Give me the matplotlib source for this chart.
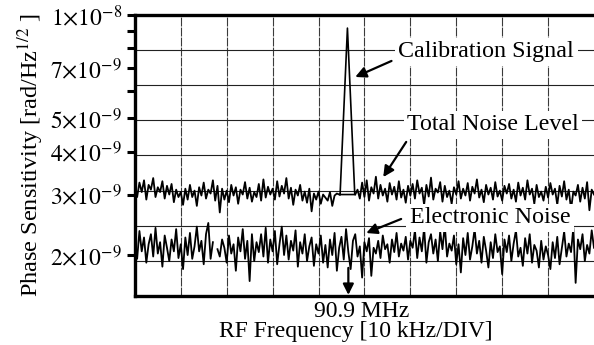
import numpy as np
import matplotlib
matplotlib.use("Agg")
import matplotlib.pyplot as plt
from matplotlib.ticker import FixedLocator, FuncFormatter, NullLocator

plt.rcParams["font.family"] = ["Liberation Serif", "DejaVu Serif"]
plt.rcParams["mathtext.fontset"] = "stix"

nan = float("nan")

# values in units of 1e-9 rad/Hz^1/2, sampled every 0.05 division (0..10)
total_noise = [
    3.15, 2.95, 3.25, 3.05, 3.30, 2.90, 3.20, 3.10, 3.35, 2.95, 3.15, 3.05, 3.28, 2.92, 3.18, 3.00, 3.22, 2.85, 3.10, 2.95,
    3.05, 2.80, 3.12, 2.90, 3.20, 2.95, 3.08, 2.78, 3.15, 2.98, 3.25, 2.92, 3.10, 3.02, 3.30, 2.88, 3.18, 2.66, 3.12, 2.90,
    3.08, 2.85, 3.20, 2.98, 3.15, 2.82, 3.10, 3.00, 3.26, 2.92, 3.14, 2.86, 3.05, 2.95, 3.22, 2.88, 3.32, 2.94, 3.16, 3.00,
    3.12, 2.90, 3.28, 2.96, 3.18, 3.02, 3.35, 2.92, 3.14, 2.80, 3.10, 2.98, 3.20, 2.88, 3.06, 2.84, 3.12, 2.68, 3.02, 2.90,
    3.06, 2.82, 3.00, 2.94, 2.88, 3.05, 2.78, 2.98, 3.02, 3.00, nan, nan, nan, nan, nan, nan, 3.00, 3.10, 2.92, 3.25,
    2.95, 3.30, 2.88, 3.15, 3.02, 3.38, 2.92, 3.20, 2.98, 3.12, 2.86, 3.24, 3.00, 3.16, 2.90, 3.28, 2.94, 3.10, 2.84, 3.18,
    2.98, 3.22, 2.92, 3.30, 3.02, 3.14, 2.80, 3.20, 2.96, 3.36, 2.90, 3.12, 3.04, 3.26, 2.86, 3.18, 2.95, 3.08, 2.82, 3.15,
    3.00, 3.28, 2.92, 3.12, 2.98, 3.24, 2.88, 3.16, 3.02, 3.32, 2.94, 3.10, 2.85, 3.20, 3.00, 3.14, 2.90, 3.26, 2.96, 3.08,
    2.88, 3.18, 3.02, 3.22, 2.92, 3.10, 2.86, 3.25, 2.98, 3.14, 2.90, 3.30, 3.00, 3.12, 2.82, 3.20, 2.95, 3.06, 2.88, 3.16,
    2.94, 3.24, 3.00, 3.12, 2.80, 3.18, 2.96, 3.28, 2.90, 3.10, 2.72, 3.06, 2.98, 3.20, 2.86, 3.14, 2.92, 3.26, 2.70, 3.10,
    3.00,
]

electronic_noise = [
    2.20, 1.95, 2.35, 2.05, 2.25, 1.90, 2.15, 2.30, 1.98, 2.40, 2.02, 2.18, 1.85, 2.28, 2.10, 1.92, 2.22, 2.05, 2.38, 1.96,
    2.15, 1.82, 2.25, 2.00, 2.32, 1.95, 2.12, 2.42, 2.05, 2.20, 1.88, 2.30, 2.48, 1.95, 2.18, nan, 2.08, 1.98, 2.22, 2.10,
    1.90, 2.28, 2.02, 2.15, 1.80, 2.25, 2.05, 2.38, 1.95, 2.20, 1.68, 2.30, 1.92, 2.18, 2.04, 2.30, 1.98, 2.40, 1.90, 2.22,
    2.05, 2.35, 1.88, 2.15, 2.42, 2.00, 2.28, 1.94, 2.20, 2.06, 2.36, 1.85, 2.18, 2.02, 2.30, 1.92, 2.12, 2.25, 1.86, 2.15,
    2.02, 2.28, 1.90, 2.14, 1.84, 2.22, 2.00, 2.32, 1.80, 2.10, 2.26, 1.94, 2.38, 2.04, 1.82, 2.20, 2.30, 1.98, 2.12, 1.72,
    2.18, 2.05, 2.24, 1.74, 2.10, 2.02, 2.20, 1.96, 2.28, 2.08, 2.15, 1.90, 2.22, 2.04, 2.32, 1.98, 2.16, 2.06, 2.26, 1.94,
    2.20, 2.10, 2.36, 1.96, 2.25, 2.05, 2.40, 1.90, 2.18, 2.30, 2.02, 2.22, 1.92, 2.34, 2.08, 2.44, 1.98, 2.16, 2.06, 2.28,
    1.88, 2.15, 1.78, 2.24, 2.00, 2.32, 1.94, 2.12, 2.38, 2.02, 2.20, 1.90, 2.26, 2.06, 1.84, 2.18, 1.96, 2.30, 2.04, 2.12,
    1.76, 2.22, 2.04, 2.28, 1.92, 2.16, 2.36, 1.98, 2.10, 1.86, 2.24, 2.02, 2.30, 1.90, 2.14, 2.06, 1.84, 2.20, 1.94, 2.12,
    2.00, 1.82, 2.18, 1.96, 2.26, 1.88, 2.10, 2.34, 1.98, 2.16, 2.04, 2.40, 1.66, 2.22, 2.08, 2.30, 1.92, 2.14, 2.02, 2.36,
    2.10,
]

# calibration peak (divisions, 1e-9 units)
peak_x = [4.47, 4.63, 4.79, 4.47]
peak_y = [3.00, 9.15, 3.00, 3.00]
marker_x = 4.65  # 90.9 MHz

freq_div = np.linspace(0, 10, len(total_noise))
scale = 1e-9

fig = plt.figure(figsize=(5.94, 3.45), dpi=100)
ax = fig.add_axes([0.227, 0.142, 0.773, 0.815])

ax.set_yscale("log")
ax.set_xlim(0, 10)
ax.set_ylim(1.52e-9, 1e-8)

# grid: 10 vertical divisions, 8 equal horizontal divisions
for i in range(1, 10):
    ax.axvline(i, color="#3a3a3a", lw=0.8, ls=(0, (8, 1)), zorder=1)
for j in range(1, 8):
    ax.plot([0, 1], [j / 8, j / 8], transform=ax.transAxes, color="#222222", lw=0.8, zorder=1)

ax.plot(freq_div, np.array(total_noise) * scale, color="k", lw=1.3, zorder=3)
ax.plot(freq_div, np.array(electronic_noise) * scale, color="k", lw=1.3, zorder=3)
ax.plot(peak_x, np.array(peak_y) * scale, color="k", lw=1.2, zorder=3)

major = [2e-9, 3e-9, 4e-9, 5e-9, 6e-9, 7e-9, 8e-9, 9e-9, 1e-8]
labelled = [2, 3, 4, 5, 7]


def fmt(v, pos):
    m = int(round(v / 1e-9))
    if m == 10:
        return r"$1{\times}10^{-8}$"
    if m in labelled:
        return r"$%d{\times}10^{-9}$" % m
    return ""


ax.yaxis.set_major_locator(FixedLocator(major))
ax.yaxis.set_major_formatter(FuncFormatter(fmt))
ax.yaxis.set_minor_locator(NullLocator())
ax.set_xticks([])
ax.tick_params(axis="y", direction="out", length=6, width=2.2, labelsize=17, pad=3)

for side in ["left", "top", "bottom"]:
    ax.spines[side].set_linewidth(2.4)
ax.spines["right"].set_visible(False)

ax.set_ylabel(r"Phase Sensitivity [rad/Hz$^{1/2}$ ]", fontsize=17.5, labelpad=3)

box = dict(boxstyle="square,pad=0.15", fc="white", ec="none")
arrow = dict(arrowstyle="-|>", color="k", lw=1.6, mutation_scale=16, shrinkA=0, shrinkB=0)

ax.text(0.765, 0.868, "Calibration Signal", transform=ax.transAxes, ha="center", va="center",
        fontsize=17.3, bbox=box, zorder=5)
ax.annotate("", xy=(0.480, 0.779), xytext=(0.559, 0.836), xycoords="axes fraction",
            textcoords="axes fraction", arrowprops=arrow, zorder=6)

ax.text(0.780, 0.609, "Total Noise Level", transform=ax.transAxes, ha="center", va="center",
        fontsize=17.3, bbox=box, zorder=5)
ax.annotate("", xy=(0.541, 0.423), xytext=(0.591, 0.548), xycoords="axes fraction",
            textcoords="axes fraction", arrowprops=arrow, zorder=6)

ax.text(0.774, 0.278, "Electronic Noise", transform=ax.transAxes, ha="center", va="center",
        fontsize=17.3, bbox=box, zorder=5)
ax.annotate("", xy=(0.504, 0.224), xytext=(0.580, 0.274), xycoords="axes fraction",
            textcoords="axes fraction", arrowprops=arrow, zorder=6)

ax.annotate("", xy=(marker_x, 0.004), xytext=(marker_x, 0.100), xycoords=("data", "axes fraction"),
            textcoords=("data", "axes fraction"), arrowprops=arrow, zorder=6)

fig.text(0.609, 0.096, "90.9 MHz", ha="center", va="center", fontsize=17)
fig.text(0.599, 0.040, "RF Frequency [10 kHz/DIV]", ha="center", va="center", fontsize=17)

fig.savefig("out.png", dpi=100)
